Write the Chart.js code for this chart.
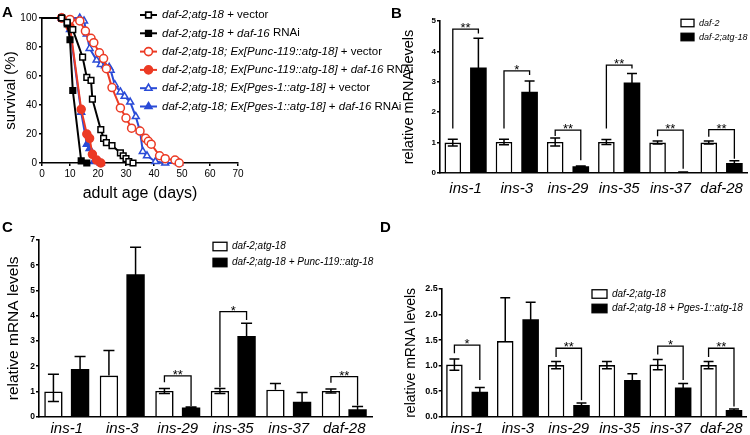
<!DOCTYPE html>
<html>
<head>
<meta charset="utf-8">
<script src="https://cdn.jsdelivr.net/npm/chart.js@4.4.1/dist/chart.umd.min.js"></script>
<style>
  body { margin: 0; background: #fff; }
  #wrap { position: relative; width: 750px; height: 435px; overflow: hidden; }
  canvas { position: absolute; left: 0; top: 0; }
  .tag { position: absolute; font: bold 15px "Liberation Sans", Arial, sans-serif; line-height: 15px; }
</style>
</head>
<body>
<div id="wrap">
  <canvas id="cA" width="750" height="435"></canvas>
  <canvas id="cB" width="750" height="435"></canvas>
  <canvas id="cC" width="750" height="435"></canvas>
  <canvas id="cD" width="750" height="435"></canvas>
  <div class="tag" style="left:2px;top:4px">A</div>
  <div class="tag" style="left:391px;top:5px">B</div>
  <div class="tag" style="left:2px;top:219px">C</div>
  <div class="tag" style="left:380px;top:219px">D</div>
</div>
<script>
// ---- panel A: survival (%) vs adult age (days)
const vecDays   = [0, 7, 9, 11, 14.5, 16, 17.5, 18, 21, 22, 23, 25, 28, 29, 30, 31, 32.5];
const vecSurv   = [100, 100, 97, 92, 73, 59, 57, 44, 23, 17, 14, 12, 7, 5, 3, 1, 0];
const rnaiDays  = [0, 7, 9, 10, 11, 14, 16];
const rnaiSurv  = [100, 100, 96, 85, 50, 1.5, 0];
const puncVecDays = [0, 7, 10, 13.5, 15.5, 17.5, 18.5, 20.5, 22, 23, 25, 28, 30, 32, 35, 37, 38, 39, 42, 44, 47.5, 49];
const puncVecSurv = [100, 100, 99, 98, 91, 86, 83, 76, 72, 65, 52, 38, 31, 24, 22, 17, 15, 13, 5, 3, 2, 0];
const puncRnaiDays = [0, 7, 10, 14, 16, 17, 18, 19.5, 21];
const puncRnaiSurv = [100, 100, 94, 37, 20, 17, 6, 2, 0];
const pgesVecDays = [0, 13.5, 15, 16, 17, 19.5, 21, 22.5, 24, 24.5, 26, 28, 29.5, 31.5, 33.5, 35, 36, 37.5, 40.5, 44, 49];
const pgesVecSurv = [100, 100, 98, 89, 79, 71, 68, 67, 66, 64, 54, 49, 46, 42, 32, 22, 8, 5, 1, 0, 0];
const pgesRnaiDays = [0, 7, 10, 14, 16, 17, 18.5, 21];
const pgesRnaiSurv = [100, 100, 92, 35, 13, 10, 1, 0];

const survLegend = [
  [['daf-2;atg-18', 1], [' + vector', 0]],
  [['daf-2;atg-18', 1], [' + ', 0], ['daf-16', 1], [' RNAi', 0]],
  [['daf-2;atg-18; Ex[Punc-119::atg-18]', 1], [' + vector', 0]],
  [['daf-2;atg-18; Ex[Punc-119::atg-18]', 1], [' + ', 0], ['daf-16', 1], [' RNAi', 0]],
  [['daf-2;atg-18; Ex[Pges-1::atg-18]', 1], [' + vector', 0]],
  [['daf-2;atg-18; Ex[Pges-1::atg-18]', 1], [' + ', 0], ['daf-16', 1], [' RNAi', 0]]
];

// ---- panels B-D: relative mRNA levels
const genes = ['ins-1', 'ins-3', 'ins-29', 'ins-35', 'ins-37', 'daf-28'];

const bWhite    = [1.0, 1.02, 1.02, 1.02, 1.0, 1.0];
const bWhiteErr = [0.11, 0.09, 0.13, 0.08, 0.05, 0.05];
const bWhiteLo  = [0.11, 0.09, 0.13, 0.08, 0.05, 0.05];
const bBlack    = [3.47, 2.67, 0.22, 2.98, 0.03, 0.33];
const bBlackErr = [0.96, 0.36, 0.01, 0.29, 0.005, 0.07];
const bSigIdx = [0, 1, 2, 3, 4, 5];
const bSigTxt = ['**', '*', '**', '**', '**', '**'];
const bSigTop = [4.73, 3.36, 1.41, 3.55, 1.41, 1.43];
const bSigL   = [1.46, 1.46, 1.22, 1.46, 1.21, 1.19];
const bSigR   = [4.59, 3.22, 0.42, 3.44, 0.14, 0.47];

const cWhite    = [1.0, 1.63, 1.02, 1.02, 1.07, 1.02];
const cWhiteErr = [0.68, 0.99, 0.1, 0.1, 0.25, 0.08];
const cWhiteLo  = [0.4, 0, 0.1, 0.1, 0, 0.08];
const cBlack    = [1.89, 5.64, 0.36, 3.2, 0.59, 0.3];
const cBlackErr = [0.49, 1.07, 0.02, 0.5, 0.37, 0.1];
const cSigIdx = [2, 3, 5];
const cSigTxt = ['**', '*', '**'];
const cSigTop = [1.62, 4.16, 1.59];
const cSigL   = [1.36, 1.17, 1.34];
const cSigR   = [0.42, 3.83, 0.44];

const dWhite    = [1.02, 1.48, 1.01, 1.01, 1.02, 1.01];
const dWhiteErr = [0.11, 0.85, 0.07, 0.07, 0.1, 0.07];
const dWhiteLo  = [0.11, 0, 0.07, 0.07, 0.1, 0.07];
const dBlack    = [0.49, 1.91, 0.23, 0.72, 0.57, 0.13];
const dBlackErr = [0.08, 0.33, 0.04, 0.12, 0.08, 0.02];
const dSigIdx = [0, 2, 4, 5];
const dSigTxt = ['*', '**', '*', '**'];
const dSigTop = [1.40, 1.34, 1.38, 1.34];
const dSigL   = [1.24, 1.17, 1.22, 1.17];
const dSigR   = [0.72, 0.32, 0.72, 0.2];

const F = '"Liberation Sans", Arial, Helvetica, sans-serif';
Chart.defaults.font.family = F;
Chart.defaults.color = '#000';
Chart.defaults.animation = false;

const RED = '#ec3a24', BLUE = '#2a4bd7', BLACK = '#000';

function pts(days, surv) {
  return days.map((x, i) => ({ x: x, y: surv[i] }));
}

// draws runs of text, some italic, left to right
function richText(ctx, parts, x, y, size) {
  parts.forEach(([t, it]) => {
    ctx.font = (it ? 'italic ' : '') + size + 'px ' + F;
    ctx.fillText(t, x, y);
    x += ctx.measureText(t).width;
  });
}

const survStyles = [
  { c: BLACK, ps: 'rect', open: true },
  { c: BLACK, ps: 'rect', open: false },
  { c: RED, ps: 'circle', open: true },
  { c: RED, ps: 'circle', open: false },
  { c: BLUE, ps: 'triangle', open: true },
  { c: BLUE, ps: 'triangle', open: false }
];
const survData = [
  pts(vecDays, vecSurv), pts(rnaiDays, rnaiSurv),
  pts(puncVecDays, puncVecSurv), pts(puncRnaiDays, puncRnaiSurv),
  pts(pgesVecDays, pgesVecSurv), pts(pgesRnaiDays, pgesRnaiSurv)
];

const survLegendPlugin = {
  id: 'survLegend',
  afterDraw(chart) {
    const ctx = chart.ctx;
    ctx.save();
    survLegend.forEach((row, i) => {
      const st = survStyles[i];
      const y = 15 + i * 18.3;
      ctx.strokeStyle = st.c;
      ctx.lineWidth = 2;
      ctx.beginPath(); ctx.moveTo(140, y); ctx.lineTo(157, y); ctx.stroke();
      ctx.fillStyle = st.open ? '#fff' : st.c;
      ctx.lineWidth = 1.6;
      Chart.helpers.drawPoint(ctx, { pointStyle: st.ps, radius: 4, borderWidth: 1.6, rotation: 0 }, 148.5, y);
      ctx.fillStyle = '#000';
      ctx.textBaseline = 'middle';
      richText(ctx, row, 162, y, 11.5);
    });
    ctx.restore();
  }
};

new Chart(document.getElementById('cA'), {
  type: 'line',
  data: {
    datasets: survData.map((d, i) => ({
      data: d,
      borderColor: survStyles[i].c,
      pointBorderColor: survStyles[i].c,
      pointBackgroundColor: survStyles[i].open ? '#fff' : survStyles[i].c,
      backgroundColor: survStyles[i].c,
      borderWidth: 2,
      pointStyle: survStyles[i].ps,
      pointRadius: ctx => ctx.dataIndex === 0 ? 0 : 4,
      pointBorderWidth: 1.5,
      clip: 10
    }))
  },
  options: {
    responsive: false,
    layout: { padding: { left: 2, top: 18, right: 512, bottom: 232 } },
    plugins: { legend: { display: false }, tooltip: { enabled: false } },
    scales: {
      x: {
        type: 'linear', min: 0, max: 70,
        border: { color: '#000', width: 1.6 },
        grid: { drawOnChartArea: false, color: '#000', lineWidth: 1.5, tickLength: 3 },
        ticks: { stepSize: 10, font: { size: 10 }, padding: 2 },
        title: { display: true, text: 'adult age (days)', font: { size: 16 }, padding: 0 },
        afterFit: s => { s.height = 40; }
      },
      y: {
        min: 0, max: 100,
        border: { color: '#000', width: 1.6 },
        grid: { drawOnChartArea: false, color: '#000', lineWidth: 1.5, tickLength: 3 },
        ticks: { stepSize: 20, font: { size: 10 }, padding: 2 },
        title: { display: true, text: 'survival (%)', font: { size: 15 }, padding: 0 },
        afterFit: s => { s.width = 40; }
      }
    }
  },
  plugins: [survLegendPlugin]
});

// error bars + significance brackets + box legend for the bar panels
function barExtras(p) {
  return {
    id: 'extras',
    afterDatasetsDraw(chart) {
      const ctx = chart.ctx, ys = chart.scales.y;
      const w = chart.getDatasetMeta(0).data, b = chart.getDatasetMeta(1).data;
      ctx.save();
      ctx.strokeStyle = '#000';
      ctx.lineWidth = 1.5;
      [[w, p.white, p.whiteErr, p.whiteLo], [b, p.black, p.blackErr, p.blackErr]].forEach(([els, v, e, lo]) => {
        els.forEach((el, i) => {
          const cap = el.width * 0.3;
          const top = ys.getPixelForValue(v[i] + e[i]);
          const bot = ys.getPixelForValue(v[i] - lo[i]);
          ctx.beginPath();
          ctx.moveTo(el.x, bot); ctx.lineTo(el.x, top);
          ctx.moveTo(el.x - cap, top); ctx.lineTo(el.x + cap, top);
          if (lo[i] > 0) { ctx.moveTo(el.x - cap, bot); ctx.lineTo(el.x + cap, bot); }
          ctx.stroke();
        });
      });
      ctx.lineWidth = 1.3;
      ctx.fillStyle = '#000';
      ctx.textAlign = 'center';
      ctx.textBaseline = 'alphabetic';
      ctx.font = '13px ' + F;
      p.sigIdx.forEach((k, i) => {
        const x1 = w[k].x, x2 = b[k].x, yt = ys.getPixelForValue(p.sigTop[i]);
        ctx.beginPath();
        ctx.moveTo(x1, ys.getPixelForValue(p.sigL[i]));
        ctx.lineTo(x1, yt); ctx.lineTo(x2, yt);
        ctx.lineTo(x2, ys.getPixelForValue(p.sigR[i]));
        ctx.stroke();
        ctx.fillText(p.sigTxt[i], (x1 + x2) / 2, yt + 3);
      });
      // legend
      ctx.textAlign = 'left';
      ctx.textBaseline = 'middle';
      p.legend.forEach((txt, i) => {
        const y = p.legY[i];
        ctx.fillStyle = i === 0 ? '#fff' : '#000';
        ctx.fillRect(p.legX, y - p.boxH / 2, p.boxW, p.boxH);
        ctx.strokeRect(p.legX, y - p.boxH / 2, p.boxW, p.boxH);
        ctx.fillStyle = '#000';
        ctx.font = 'italic ' + p.legSize + 'px ' + F;
        ctx.fillText(txt, p.legX + p.boxW + 5, y);
      });
      ctx.restore();
    }
  };
}

function barPanel(id, p) {
  new Chart(document.getElementById(id), {
    type: 'bar',
    data: {
      labels: genes,
      datasets: [
        { data: p.white, backgroundColor: '#fff', borderColor: '#000', borderWidth: 1.6 },
        { data: p.black, backgroundColor: '#000', borderColor: '#000', borderWidth: 0 }
      ]
    },
    options: {
      responsive: false,
      layout: { padding: p.pad },
      datasets: { bar: { categoryPercentage: p.cat, barPercentage: p.bar } },
      plugins: { legend: { display: false }, tooltip: { enabled: false } },
      scales: {
        x: {
          grid: { display: false, drawTicks: false },
          border: { color: '#000', width: 1.6 },
          ticks: { font: { size: 15, style: 'italic' }, padding: p.xPad, maxRotation: 0, autoSkip: false },
          afterFit: s => { s.height = p.xH; }
        },
        y: {
          min: 0, max: p.max,
          border: { color: '#000', width: 1.6 },
          grid: { drawOnChartArea: false, color: '#000', lineWidth: 1.5, tickLength: 3 },
          ticks: { stepSize: p.step, font: { size: p.tick, weight: 'bold' }, padding: 1, callback: v => p.fmt(v) },
          title: { display: true, text: 'relative mRNA levels', font: { size: p.title }, padding: 0 },
          afterFit: s => { s.width = p.yW; }
        }
      }
    },
    plugins: [barExtras(p)]
  });
}

barPanel('cB', {
  white: bWhite, whiteErr: bWhiteErr, whiteLo: bWhiteLo, black: bBlack, blackErr: bBlackErr,
  sigIdx: bSigIdx, sigTxt: bSigTxt, sigTop: bSigTop, sigL: bSigL, sigR: bSigR,
  max: 5, step: 1, fmt: v => String(v), tick: 8, title: 14.5,
  pad: { left: 400, top: 21, right: 2, bottom: 234 }, yW: 40, xH: 28, xPad: 7,
  cat: 1, bar: 0.65,
  legend: ['daf-2', 'daf-2;atg-18'], legX: 681, legY: [23, 37], boxW: 13, boxH: 7.5, legSize: 9
});

barPanel('cC', {
  white: cWhite, whiteErr: cWhiteErr, whiteLo: cWhiteLo, black: cBlack, blackErr: cBlackErr,
  sigIdx: cSigIdx, sigTxt: cSigTxt, sigTop: cSigTop, sigL: cSigL, sigR: cSigR,
  max: 7, step: 1, fmt: v => String(v), tick: 8.5, title: 15.5,
  pad: { left: 4, top: 240, right: 378, bottom: 0 }, yW: 35, xH: 18.3, xPad: 3,
  cat: 0.96, bar: 0.69,
  legend: ['daf-2;atg-18', 'daf-2;atg-18 + Punc-119::atg-18'], legX: 213, legY: [246.5, 262.5], boxW: 14, boxH: 8.5, legSize: 10
});

barPanel('cD', {
  white: dWhite, whiteErr: dWhiteErr, whiteLo: dWhiteLo, black: dBlack, blackErr: dBlackErr,
  sigIdx: dSigIdx, sigTxt: dSigTxt, sigTop: dSigTop, sigL: dSigL, sigR: dSigR,
  max: 2.5, step: 0.5, fmt: v => v.toFixed(1), tick: 9, title: 14,
  pad: { left: 403, top: 289, right: 3.3, bottom: 0 }, yW: 38.7, xH: 18.3, xPad: 3,
  cat: 1, bar: 0.65,
  legend: ['daf-2;atg-18', 'daf-2;atg-18 + Pges-1::atg-18'], legX: 592, legY: [294, 308.5], boxW: 15, boxH: 8.5, legSize: 10
});
</script>
</body>
</html>
